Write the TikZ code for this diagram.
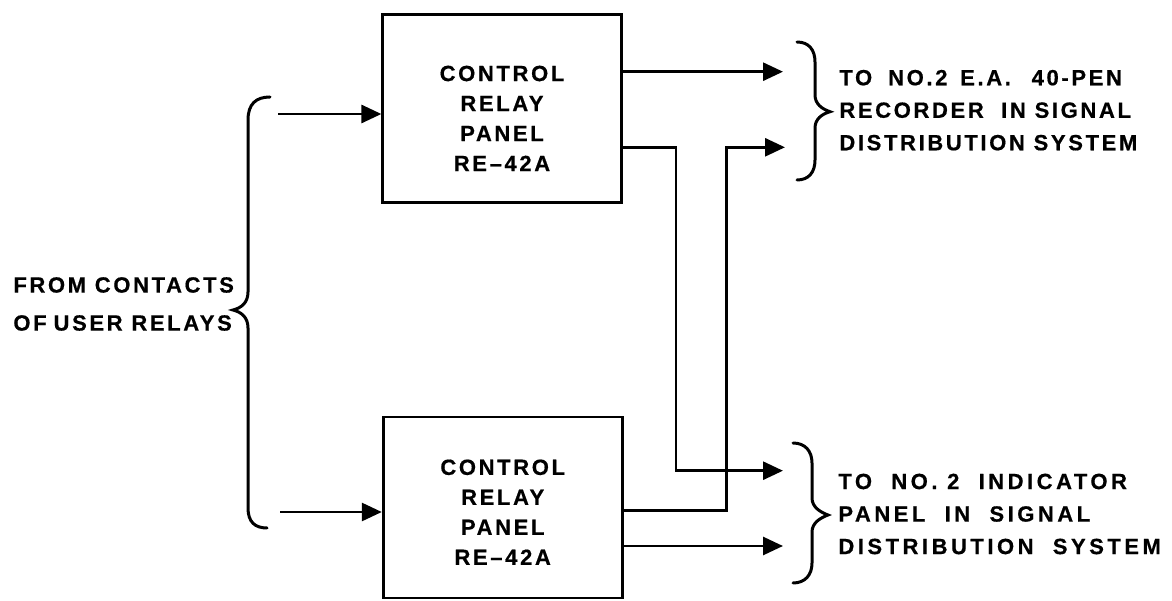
\documentclass[tikz,border=0pt]{standalone}
\usepackage{fontspec}
\setmainfont{Liberation Sans}[LetterSpace=12,BoldFeatures={FakeBold=0.6}]
\usetikzlibrary{arrows.meta}
\begin{document}
\begin{tikzpicture}[x=1pt,y=-1pt, line width=2.8pt,
  box/.style={draw, minimum width=239pt, inner sep=0pt},
  lbl/.style={font=\fontsize{22}{30}\selectfont\bfseries, align=center, inner sep=0pt},
  sidetxt/.style={font=\fontsize{22}{32.5}\selectfont\bfseries, align=left, anchor=west, inner sep=0pt},
  arr/.style={-{Triangle[length=20pt,width=18pt]}},
  brace/.style={line cap=round, line width=3pt}]
\useasboundingbox (0,0) rectangle (1172,601);
% boxes
\node[box, minimum height=188pt] (top) at (502.3,108.2) {};
\node[box, minimum height=181pt] (bot) at (502.7,507.5) {};
\node[lbl] (toptext) at (502,118.4) {CONTROL\\RELAY\\PANEL\\RE--42A};
\node[lbl] (bottext) at (502.7,512.2) {CONTROL\\RELAY\\PANEL\\RE--42A};
% side texts
\node[sidetxt, font=\fontsize{22}{38}\selectfont\bfseries] (from) at (12,304) {FROM CONTACTS\\OF\hspace{7pt}USER RELAYS};
\node[sidetxt] (rec) at (838,110.2) {TO\hspace{16pt}NO.2\hspace{4pt} E.A.\hspace{12pt} 40-PEN\\RECORDER\ \ IN SIGNAL\\DISTRIBUTION SYSTEM};
\node[sidetxt, font=\fontsize{22}{32.5}\selectfont\bfseries\addfontfeature{LetterSpace=16}] (ind) at (837,514) {TO\ \ NO. 2\ \ INDICATOR\\PANEL\ \ IN\ \ SIGNAL\\DISTRIBUTION\ \ SYSTEM};
% coordinates
\coordinate (inA) at (278,114);
\coordinate (inB) at (280,512);
\coordinate (oA) at (783,71.7);
\coordinate (oB) at (785,147.3);
\coordinate (oC) at (783,470.7);
\coordinate (oD) at (783,546);
\coordinate (jA) at (676,147.7);
\coordinate (jB) at (726.7,510.7);
% connectors
\draw[arr] (inA) -- (inA -| top.west);
\draw[arr] (inB) -- (inB -| bot.west);
\draw[arr] (oA -| top.east) -- (oA);
\draw[arr] (jA -| top.east) -- (jA) |- (oC);
\draw[arr] (jB -| bot.east) -- (jB) |- (oB);
\draw[arr] (oD -| bot.east) -- (oD);
% braces
\draw[brace] (270,97) .. controls (256,97) and (248,104) .. (248,120) -- (248,292) .. controls (248,303) and (241,308) .. (233,310) .. controls (241,312) and (248,317) .. (248,328) -- (248,508) .. controls (248,522) and (255,528) .. (267,528);
\draw[brace] (797,42) .. controls (809,42) and (815,50) .. (815,62) -- (815,95) .. controls (815,104) and (822,109) .. (830,111.7) .. controls (822,114) and (815,119) .. (815,128) -- (815,160) .. controls (815,172) and (809,180) .. (797,180);
\draw[brace] (793,443) .. controls (805,443) and (812,451) .. (812,463) -- (812,498) .. controls (812,507) and (820,512) .. (828,515) .. controls (820,518) and (812,523) .. (812,532) -- (812,563) .. controls (812,575) and (805,583) .. (793,583);
\end{tikzpicture}
\end{document}
